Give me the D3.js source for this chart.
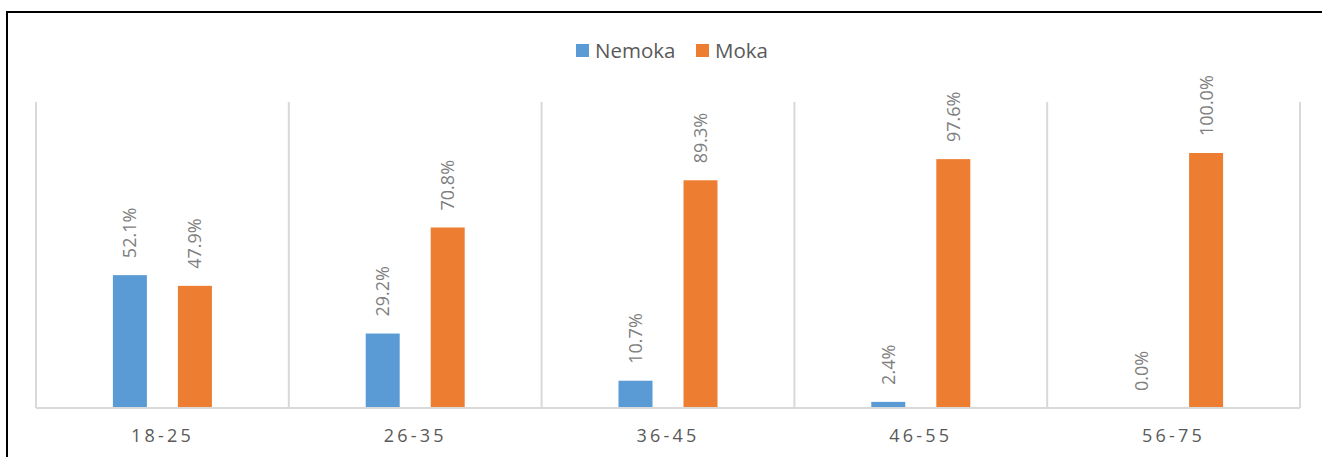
<!DOCTYPE html>
<html>
<head>
<meta charset="utf-8">
<script src="https://cdn.jsdelivr.net/npm/d3@7"></script>
<style>
  body { margin: 0; background: #fff; }
  svg { display: block; }
</style>
</head>
<body>
<svg id="chart" width="1322" height="457"></svg>
<script>
// age groups and the share of each answer
const ageGroups = ["18-25", "26-35", "36-45", "46-55", "56-75"];
const seriesNames = ["Nemoka", "Moka"];
const nemoka = [52.1, 29.2, 10.7, 2.4, 0.0];
const moka = [47.9, 70.8, 89.3, 97.6, 100.0];
const colors = ["#5b9bd5", "#ed7d31"];

const W = 1322, H = 457;
const margin = { top: 102, left: 36, right: 22, bottom: 49 };
const plotW = W - margin.left - margin.right;
const plotH = H - margin.top - margin.bottom;

const rows = ageGroups.map((g, i) => ({ group: g, values: [nemoka[i], moka[i]] }));

const svg = d3.select("#chart");

// outer frame (only top and left are in view)
svg.append("line").attr("x1", 7).attr("x2", W).attr("y1", 12).attr("y2", 12)
  .attr("stroke", "#000").attr("stroke-width", 2);
svg.append("line").attr("x1", 7).attr("x2", 7).attr("y1", 11).attr("y2", H)
  .attr("stroke", "#000").attr("stroke-width", 2);

const g = svg.append("g").attr("transform", `translate(${margin.left},${margin.top})`);

const x = d3.scaleBand().domain(ageGroups).range([0, plotW]);
const y = d3.scaleLinear().domain([0, 120]).range([plotH, 0]);

// category separators
g.append("g").selectAll("line")
  .data(ageGroups.concat(["end"]))
  .join("line")
  .attr("x1", (d, i) => i * x.step())
  .attr("x2", (d, i) => i * x.step())
  .attr("y1", 0).attr("y2", plotH)
  .attr("stroke", "#d9d9d9").attr("stroke-width", 2);

const barW = 34;
const offsets = [-32.5, 32.5];

const groups = g.append("g").selectAll("g")
  .data(rows)
  .join("g")
  .attr("transform", d => `translate(${x(d.group) + x.bandwidth() / 2},0)`);

groups.selectAll("rect")
  .data(d => d.values.map((v, k) => ({ v, k })))
  .join("rect")
  .attr("x", d => offsets[d.k] - barW / 2)
  .attr("width", barW)
  .attr("y", d => y(d.v))
  .attr("height", d => plotH - y(d.v))
  .attr("fill", d => colors[d.k]);

groups.selectAll("text")
  .data(d => d.values.map((v, k) => ({ v, k })))
  .join("text")
  .attr("transform", d => `translate(${offsets[d.k]},${y(d.v) - 17}) rotate(-90)`)
  .attr("dy", "0.36em")
  .attr("font-family", "Open Sans, sans-serif")
  .attr("font-size", 18)
  .attr("fill", "#808080")
  .text(d => d.v.toFixed(1) + "%");

// baseline
g.append("line").attr("x1", 0).attr("x2", plotW).attr("y1", plotH).attr("y2", plotH)
  .attr("stroke", "#d9d9d9").attr("stroke-width", 2);

// category labels
const xAxis = g.append("g").attr("transform", `translate(0,${plotH})`)
  .call(d3.axisBottom(x).tickSize(0).tickPadding(0));
xAxis.select(".domain").remove();
xAxis.selectAll("text")
  .attr("y", 34)
  .attr("dy", 0)
  .attr("font-family", "Open Sans, sans-serif")
  .attr("font-size", 18)
  .attr("letter-spacing", 3.2)
  .attr("fill", "#595959");

// legend
const legend = svg.append("g").attr("transform", "translate(576,44)");
const legendX = [0, 120];
const items = legend.selectAll("g")
  .data(seriesNames)
  .join("g")
  .attr("transform", (d, i) => `translate(${legendX[i]},0)`);
items.append("rect").attr("width", 13).attr("height", 13)
  .attr("fill", (d, i) => colors[i]);
items.append("text").attr("x", 19).attr("y", 13.5)
  .attr("font-family", "Open Sans, sans-serif")
  .attr("font-size", 20.5)
  .attr("fill", "#595959")
  .text(d => d);
</script>
</body>
</html>
